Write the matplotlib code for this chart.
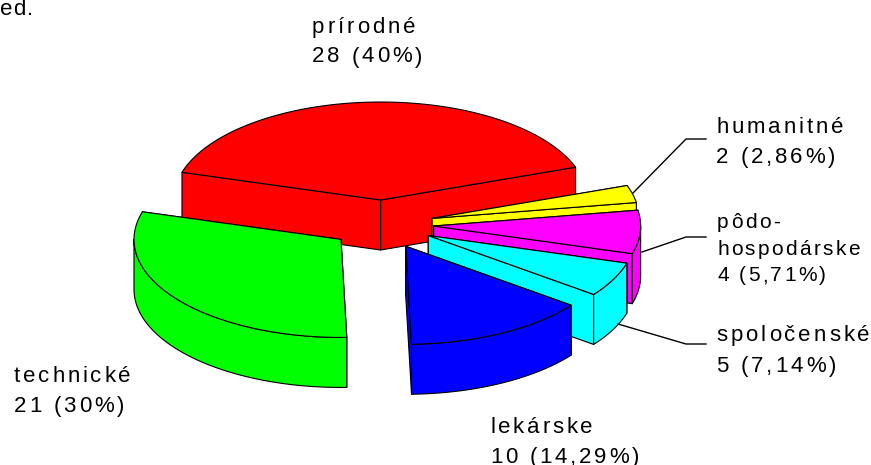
import numpy as np
import matplotlib
matplotlib.use('Agg')
import matplotlib.pyplot as plt
from matplotlib import font_manager
from matplotlib.patches import Polygon
from matplotlib.text import Text
from matplotlib.transforms import Bbox

# slices as drawn, clockwise from the red one (magenta/cyan arcs look swapped against their labels)
slice_values = [28, 2, 5, 4, 10, 21]
slice_colors = ['#ff0000', '#ffff00', '#ff00ff', '#00ffff', '#0000ff', '#00ff00']
draw_order = [0, 1, 2, 3, 5, 4]
start_angle = 163.6

labels = ['prírodné\n28 (40%)', 'humanitné\n2 (2,86%)', 'pôdo-\nhospodárske\n4 (5,71%)',
          'spoločenské\n5 (7,14%)', 'lekárske\n10 (14,29%)', 'technické\n21 (30%)']
label_x = [312, 716, 717, 716, 490, 14]
label_y = [33, 133, 228, 341, 433, 382]
label_gap = [29.5, 30, 26.5, 31, 29.5, 30]
label_size = [16, 16, 15, 16, 16, 16]
label_spacing = [2.9, 2.9, 2.3, 3.0, 2.8, 2.8]

leaders = [[(633, 193), (686, 139), (706, 139)],
           [(642, 252), (686, 237), (706, 237)],
           [(618, 324), (686, 344), (706, 344)]]

cx, cy = 382, 224.5
rx, ry = 207, 98
depth = 50
explode = 0.25
edge = 0.8


class SpacedText(Text):
    # one text object, drawn with letter spacing; y is the first baseline
    def __init__(self, x, y, text, spacing=3, gap=30, **kw):
        super().__init__(x, y, text, va='center', **kw)
        self.spacing = spacing
        self.gap = gap

    def advances(self, line):
        fp = self.get_fontproperties()
        font = font_manager.get_font(font_manager.findfont(fp))
        font.set_size(fp.get_size_in_points(), self.figure.dpi)
        return [font.load_char(ord(ch)).linearHoriAdvance / 65536 + self.spacing for ch in line]

    def get_window_extent(self, renderer=None, dpi=None):
        lines = self.get_text().split('\n')
        width = max(sum(self.advances(line)) for line in lines)
        size = self.get_fontproperties().get_size_in_points() * self.figure.dpi / 72
        x0 = self._x
        y0 = self._y - 0.75 * size
        y1 = self._y + (len(lines) - 1) * self.gap + 0.2 * size
        return Bbox(self.get_transform().transform([(x0, y1), (x0 + width, y0)]))

    def draw(self, renderer):
        fp = self.get_fontproperties()
        for i, line in enumerate(self.get_text().split('\n')):
            x = self._x
            for ch, adv in zip(line, self.advances(line)):
                t = Text(x, self._y + i * self.gap, ch, fontproperties=fp, color=self.get_color(), va='baseline')
                t.set_figure(self.figure)
                t.set_transform(self.get_transform())
                t.draw(renderer)
                x += adv


def point(ox, oy, deg):
    r = np.radians(deg)
    return ox + rx * np.cos(r), oy - ry * np.sin(r)


def arc(ox, oy, a, b, drop=0):
    ang = np.linspace(a, b, max(int(abs(b - a)), 2) + 1)
    r = np.radians(ang)
    return np.column_stack([ox + rx * np.cos(r), oy - ry * np.sin(r) + drop])


def draw_slice(ax, a, b, color):
    # a > b, going clockwise
    mid = np.radians((a + b) / 2)
    ox = cx + explode * rx * np.cos(mid)
    oy = cy - explode * ry * np.sin(mid)
    style = dict(facecolor=color, edgecolor='black', linewidth=edge, joinstyle='round')

    faces = []
    for deg in (a, b):
        ex, ey = point(ox, oy, deg)
        faces.append([(ox, oy), (ex, ey), (ex, ey + depth), (ox, oy + depth)])
    faces.sort(key=lambda f: np.mean([p[1] for p in f]))
    for f in faces:
        ax.add_patch(Polygon(f, closed=True, **style))

    # outer wall, only the part turned to the viewer
    w0, w1 = min(a, 0), max(b, -180)
    if w0 > w1:
        upper = arc(ox, oy, w0, w1)
        lower = arc(ox, oy, w1, w0, depth)
        ax.add_patch(Polygon(np.vstack([upper, lower]), closed=True, **style))

    top = np.vstack([[(ox, oy)], arc(ox, oy, a, b)])
    ax.add_patch(Polygon(top, closed=True, **style))


plt.rcParams['font.family'] = ['Liberation Sans', 'DejaVu Sans']
fig = plt.figure(figsize=(8.71, 4.65), dpi=100)
ax = fig.add_axes([0, 0, 1, 1])
ax.set_xlim(0, 871)
ax.set_ylim(465, 0)
ax.axis('off')

sweeps = 360 * np.array(slice_values) / sum(slice_values)
ends = start_angle - np.cumsum(sweeps)
starts = ends + sweeps
for i in draw_order:
    draw_slice(ax, starts[i], ends[i], slice_colors[i])

for pts in leaders:
    xs, ys = zip(*pts)
    ax.plot(xs, ys, color='black', lw=1.0)

for txt, x, y, gap, size, sp in zip(labels, label_x, label_y, label_gap, label_size, label_spacing):
    ax.add_artist(SpacedText(x, y, txt, spacing=sp, gap=gap, fontsize=size))

ax.add_artist(SpacedText(0, 15, 'ed.', spacing=1.2, fontsize=16))

fig.savefig('out.png', dpi=100)
